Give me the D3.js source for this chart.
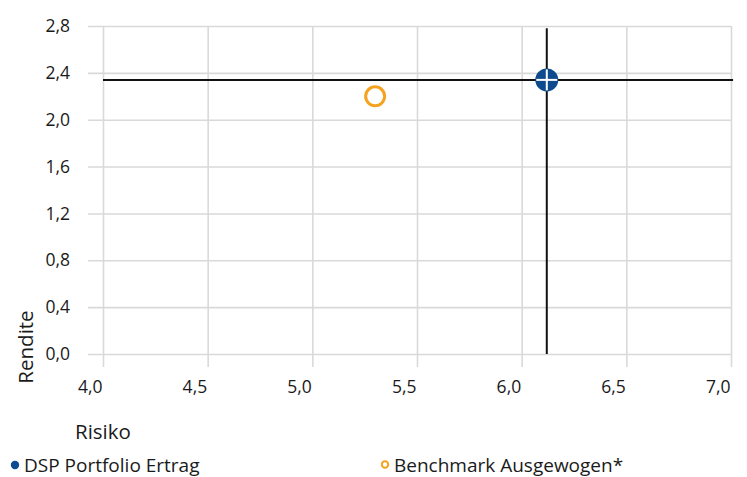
<!DOCTYPE html>
<html>
<head>
<meta charset="utf-8">
<script src="https://cdn.jsdelivr.net/npm/d3@7"></script>
<style>
  html, body { margin: 0; padding: 0; background: #fff; }
  svg text { font-family: "Open Sans", "Liberation Sans", Arial, sans-serif; fill: #1a1a1a; }
</style>
</head>
<body>
<svg id="chart" width="747" height="477"></svg>
<script>
// Risk / return positions
const seriesNames = ["DSP Portfolio Ertrag", "Benchmark Ausgewogen*"];
const riskValues = [6.12, 5.30];
const returnValues = [2.34, 2.20];
const seriesColors = ["#0d4a8e", "#f5a31e"];

// Crosshair extent through the portfolio point
const crossX = [4.0, 7.01];
const crossY = [0.0, 2.78];

// Axis ticks
const xTicks = [4.0, 4.5, 5.0, 5.5, 6.0, 6.5, 7.0];
const yTicks = [0.0, 0.4, 0.8, 1.2, 1.6, 2.0, 2.4, 2.8];
const xTitle = "Risiko";
const yTitle = "Rendite";

const svg = d3.select("#chart");
const fmt = v => d3.format(".1f")(v).replace(".", ",");

const plot = { left: 103, right: 731, top: 26, bottom: 354 };
const x = d3.scaleLinear().domain([4.0, 7.0]).range([plot.left, plot.right]);
const y = d3.scaleLinear().domain([0.0, 2.8]).range([plot.bottom, plot.top]);

const gridColor = "#d9d9d9";
const tickFont = 17.5;

// Horizontal gridlines (extending left as tick marks)
const yAxis = d3.axisLeft(y).tickValues(yTicks).tickFormat(fmt)
  .tickSizeInner(-(plot.right - plot.left + 15)).tickSizeOuter(0).tickPadding(18);
const gy = svg.append("g").attr("transform", `translate(${plot.left - 15},0)`).call(yAxis);
gy.select(".domain").remove();
gy.selectAll(".tick line").attr("stroke", gridColor).attr("stroke-width", 1.6);
gy.selectAll(".tick text").attr("font-size", tickFont).attr("fill", "#1a1a1a");

// Vertical gridlines (extending below as tick marks)
const xAxis = d3.axisBottom(x).tickValues(xTicks).tickFormat(fmt)
  .tickSizeInner(-(plot.bottom + 13 - plot.top)).tickSizeOuter(0).tickPadding(14);
const gx = svg.append("g").attr("transform", `translate(0,${plot.bottom + 13})`).call(xAxis);
gx.select(".domain").remove();
gx.selectAll(".tick line").attr("stroke", gridColor).attr("stroke-width", 1.6);
gx.selectAll(".tick text").attr("font-size", tickFont).attr("fill", "#1a1a1a")
  .attr("text-anchor", "end").attr("x", -1);

// Axis titles
svg.append("text").attr("x", 75).attr("y", 439).attr("font-size", 20.5).text(xTitle);
svg.append("text").attr("transform", "translate(33,347) rotate(-90)")
  .attr("text-anchor", "middle").attr("font-size", 20.5).text(yTitle);

// Crosshair through the portfolio point
const px = x(riskValues[0]), py = y(returnValues[0]);
svg.append("line")
  .attr("x1", x(crossX[0])).attr("x2", x(crossX[1]))
  .attr("y1", py).attr("y2", py)
  .attr("stroke", "#111").attr("stroke-width", 2);
svg.append("line")
  .attr("x1", px).attr("x2", px)
  .attr("y1", y(crossY[0])).attr("y2", y(crossY[1]))
  .attr("stroke", "#111").attr("stroke-width", 2);

// Benchmark marker: hollow ring
svg.append("circle")
  .attr("cx", x(riskValues[1])).attr("cy", y(returnValues[1]))
  .attr("r", 9.5).attr("fill", "#fff")
  .attr("stroke", seriesColors[1]).attr("stroke-width", 3);

// Portfolio marker: filled disc with white cross
const r0 = 11.5;
svg.append("circle").attr("cx", px).attr("cy", py).attr("r", r0).attr("fill", seriesColors[0]);
svg.append("line").attr("x1", px - r0 + 1).attr("x2", px + r0 - 1).attr("y1", py).attr("y2", py)
  .attr("stroke", "#fff").attr("stroke-width", 2);
svg.append("line").attr("x1", px).attr("x2", px).attr("y1", py - r0 + 1).attr("y2", py + r0 - 1)
  .attr("stroke", "#fff").attr("stroke-width", 2);

// Legend
const legendX = [15, 385];
const lg = svg.append("g");
lg.append("circle").attr("cx", legendX[0]).attr("cy", 465).attr("r", 4.2).attr("fill", seriesColors[0]);
lg.append("circle").attr("cx", legendX[1]).attr("cy", 464.5).attr("r", 3.2)
  .attr("fill", "#fff").attr("stroke", seriesColors[1]).attr("stroke-width", 2);
seriesNames.forEach((name, i) => {
  lg.append("text").attr("x", legendX[i] + 9).attr("y", 471.5).attr("font-size", 19).text(name);
});
</script>
</body>
</html>
